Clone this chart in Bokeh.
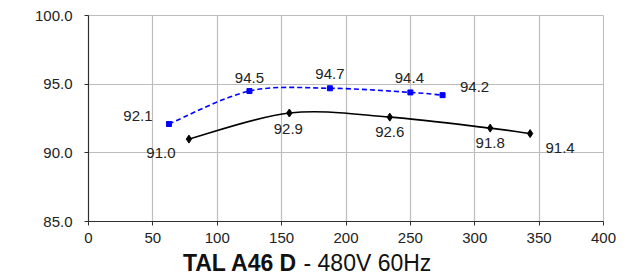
import numpy as np
from bokeh.plotting import figure
from bokeh.layouts import column
from bokeh.models import FixedTicker, ColumnDataSource, Range1d, NumeralTickFormatter
from bokeh.core.properties import value
from bokeh.embed import file_html
from bokeh.resources import INLINE

# Data
blue_x = [62.5, 125, 187.5, 250, 275]
blue_y = [92.1, 94.5, 94.7, 94.4, 94.2]
black_x = [78, 156, 234, 312, 343]
black_y = [91.0, 92.9, 92.6, 91.8, 91.4]
x_ticks = [0, 50, 100, 150, 200, 250, 300, 350, 400]
y_ticks = [85, 90, 95, 100]
title_bold = "TAL A46 D"
title_rest = "- 480V 60Hz"

# label offsets in pixels (style)
blue_dx = [-31, 0, 0, -1, 32]
blue_dy = [-8, -13, -14, -14, -8]
black_dx = [-28, -1, 0, 0, 30]
black_dy = [14, 16, 15, 15, 14]

FONT = "Liberation Sans"

p = figure(width=626, height=250, output_backend="svg", toolbar_location=None,
           x_range=Range1d(0, 400), y_range=Range1d(85, 100),
           min_border_left=88, min_border_right=23, min_border_top=15, min_border_bottom=29)
p.background_fill_color = "white"
p.border_fill_color = "white"
p.outline_line_color = "#BDBDBD"
p.outline_line_width = 1

for ax in (p.xaxis[0], p.yaxis[0]):
    ax.major_label_text_font = FONT
    ax.major_label_text_font_size = "15px"
    ax.major_label_text_color = "#222222"
    ax.axis_line_color = "#303030"
    ax.axis_line_width = 1.2
    ax.major_tick_line_color = "#303030"
    ax.major_tick_out = 4
    ax.major_tick_in = 0
    ax.minor_tick_line_color = None
p.xaxis.ticker = FixedTicker(ticks=x_ticks)
p.yaxis.ticker = FixedTicker(ticks=y_ticks)
p.yaxis.formatter = NumeralTickFormatter(format="0.0")
p.xaxis.major_label_standoff = 7
p.yaxis.major_label_standoff = 12
p.xgrid.grid_line_color = "#BDBDBD"
p.ygrid.grid_line_color = "#BDBDBD"
p.xgrid.grid_line_width = 1.2
p.ygrid.grid_line_width = 1.2


def smooth(xs, ys):
    xs = np.asarray(xs, float); ys = np.asarray(ys, float)
    n = len(xs)
    P = np.stack([xs, ys], axis=1)
    segs = {k: [] for k in ("x0", "y0", "x1", "y1", "cx0", "cy0", "cx1", "cy1")}
    for i in range(n - 1):
        p0 = P[max(i - 1, 0)]; p1 = P[i]; p2 = P[i + 1]; p3 = P[min(i + 2, n - 1)]
        c1 = p1 + (p2 - p0) / 6.0
        c2 = p2 - (p3 - p1) / 6.0
        segs["x0"].append(p1[0]); segs["y0"].append(p1[1])
        segs["x1"].append(p2[0]); segs["y1"].append(p2[1])
        segs["cx0"].append(c1[0]); segs["cy0"].append(c1[1])
        segs["cx1"].append(c2[0]); segs["cy1"].append(c2[1])
    return ColumnDataSource(segs)

bs = smooth(blue_x, blue_y)
p.bezier("x0", "y0", "x1", "y1", "cx0", "cy0", "cx1", "cy1", source=bs,
         line_color="#0000FF", line_width=1.6, line_dash="5 3")
p.scatter(blue_x, blue_y, marker="square", size=5, color="#0000FF")

ks = smooth(black_x, black_y)
p.bezier("x0", "y0", "x1", "y1", "cx0", "cy0", "cx1", "cy1", source=ks,
         line_color="#000000", line_width=1.6)
p.scatter(black_x, black_y, marker="diamond", size=8, color="#000000")

p.text(blue_x, blue_y, text=[f"{v:.1f}" for v in blue_y], x_offset=blue_dx, y_offset=blue_dy,
       text_align="center", text_baseline="middle", text_font=value(FONT),
       text_font_size="15px", text_color="#222222")
p.text(black_x, black_y, text=[f"{v:.1f}" for v in black_y], x_offset=black_dx, y_offset=black_dy,
       text_align="center", text_baseline="middle", text_font=value(FONT),
       text_font_size="15px", text_color="#222222")

# Title strip (frame aligned with main plot frame: 88..603 px)
t = figure(width=626, height=28, output_backend="svg", toolbar_location=None,
           x_axis_type=None, y_axis_type=None,
           x_range=Range1d(88, 603), y_range=Range1d(0, 28),
           min_border=0, min_border_left=88, min_border_right=23, min_border_top=0, min_border_bottom=0)
t.grid.visible = False
t.outline_line_color = None
t.background_fill_color = "white"
t.border_fill_color = "white"
t.text([297], [16], text=[title_bold], text_align="right", text_baseline="alphabetic",
       text_font=value(FONT), text_font_size="23px", text_font_style="bold", text_color="#111111")
t.text([297], [16], text=[title_rest], x_offset=6, text_align="left", text_baseline="alphabetic",
       text_font=value(FONT), text_font_size="23px", text_color="#111111")

open("out.html", "w").write(file_html(column(p, t, spacing=0), INLINE))
